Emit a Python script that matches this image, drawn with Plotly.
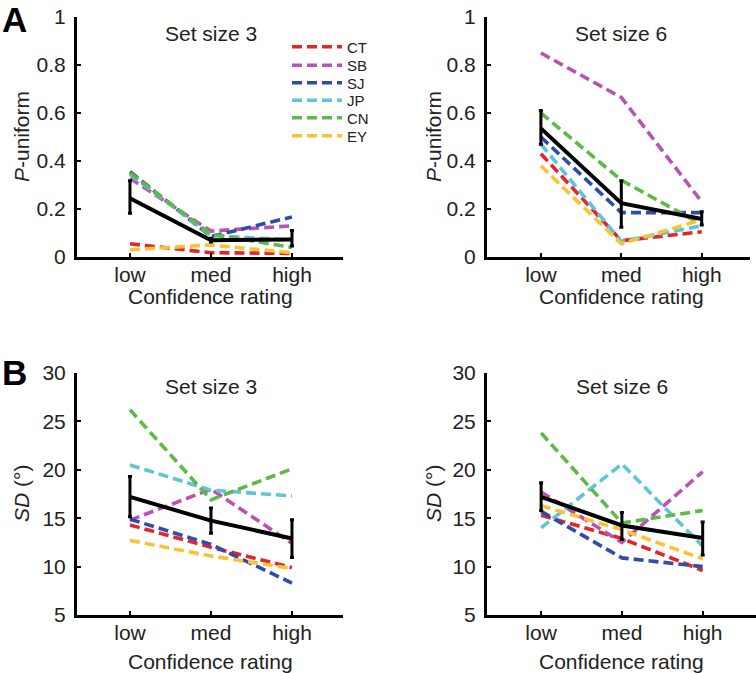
import plotly.graph_objects as go

conf = ["low", "med", "high"]
subjects = ["CT", "SB", "SJ", "JP", "CN", "EY"]
colors = ["#E3242B", "#B953B3", "#2F4DA6", "#5CC6D8", "#5FB946", "#FBC234"]

# Panel A: P-uniform, rows = subjects
puni_ss3 = [
    [0.055, 0.018, 0.015],
    [0.328, 0.108, 0.130],
    [0.356, 0.085, 0.167],
    [0.345, 0.090, 0.070],
    [0.350, 0.095, 0.040],
    [0.030, 0.050, 0.018],
]
puni_ss3_mean = [0.245, 0.070, 0.073]
puni_ss3_lo = [0.182, 0.062, 0.046]
puni_ss3_hi = [0.318, 0.078, 0.110]

puni_ss6 = [
    [0.430, 0.068, 0.105],
    [0.850, 0.665, 0.230],
    [0.500, 0.185, 0.185],
    [0.470, 0.065, 0.130],
    [0.600, 0.320, 0.135],
    [0.380, 0.055, 0.155],
]
puni_ss6_mean = [0.536, 0.224, 0.158]
puni_ss6_lo = [0.470, 0.124, 0.133]
puni_ss6_hi = [0.610, 0.318, 0.189]

# Panel B: SD (deg)
sd_ss3 = [
    [14.3, 12.0, 9.9],
    [14.8, 18.0, 12.4],
    [14.9, 12.3, 8.3],
    [20.5, 17.9, 17.3],
    [26.2, 16.9, 20.1],
    [12.7, 11.1, 9.8],
]
sd_ss3_mean = [17.2, 14.75, 12.9]
sd_ss3_lo = [15.15, 13.45, 10.95]
sd_ss3_hi = [19.3, 16.05, 14.85]

sd_ss6 = [
    [15.3, 12.9, 9.6],
    [17.7, 12.5, 19.8],
    [15.7, 10.9, 10.0],
    [14.0, 20.6, 12.1],
    [23.8, 14.5, 15.8],
    [16.3, 13.8, 10.8],
]
sd_ss6_mean = [17.2, 14.25, 12.95]
sd_ss6_lo = [15.8, 12.8, 11.2]
sd_ss6_hi = [18.65, 15.6, 14.6]

W, H = 756, 673
FONT = "Liberation Sans, Arial, Helvetica, sans-serif"
legend_ids = ["legend", "legend2", "legend3", "legend4", "legend5", "legend6"]

fig = go.Figure()

panels = [
    ("x", "y", puni_ss3, puni_ss3_mean, puni_ss3_lo, puni_ss3_hi, True),
    ("x2", "y2", puni_ss6, puni_ss6_mean, puni_ss6_lo, puni_ss6_hi, False),
    ("x3", "y3", sd_ss3, sd_ss3_mean, sd_ss3_lo, sd_ss3_hi, False),
    ("x4", "y4", sd_ss6, sd_ss6_mean, sd_ss6_lo, sd_ss6_hi, False),
]

for xa, ya, rows, mean, lo, hi, showleg in panels:
    for name, col, vals, lid in zip(subjects, colors, rows, legend_ids):
        fig.add_trace(go.Scatter(
            x=conf, y=vals, mode="lines", name=name,
            line=dict(color=col, width=3.6, dash="10px,5px"),
            xaxis=xa, yaxis=ya, showlegend=showleg, legend=lid,
            hoverinfo="skip"))
    fig.add_trace(go.Scatter(
        x=conf, y=mean, mode="lines", name="mean",
        line=dict(color="black", width=4),
        error_y=dict(type="data", symmetric=False,
                     array=[h - m for h, m in zip(hi, mean)],
                     arrayminus=[m - l for m, l in zip(mean, lo)],
                     color="black", thickness=3, width=2),
        xaxis=xa, yaxis=ya, showlegend=False, hoverinfo="skip"))


def px_x(p):
    return p / W


def px_y(p):
    return 1 - p / H


xcommon = dict(showline=True, linewidth=3, linecolor="black", mirror=False,
               ticks="inside", ticklen=4, tickwidth=2, tickcolor="black",
               showgrid=False, zeroline=False, type="category",
               categoryorder="array", categoryarray=conf, automargin=False,
               ticklabelstandoff=-3,
               tickfont=dict(family=FONT, size=21, color="#222"))
ycommon = dict(showline=True, linewidth=3, linecolor="black", mirror=False,
               ticks="inside", ticklen=4, tickwidth=2, tickcolor="black",
               showgrid=False, zeroline=False, automargin=False,
               ticklabelstandoff=4,
               tickfont=dict(family=FONT, size=21, color="#222"))

top_dom = [px_y(257), px_y(17)]
bot_dom = [px_y(615), px_y(373)]

legend_rows = [47, 65.5, 83, 100.5, 118, 136]
legends = {}
for lid, ypx in zip(legend_ids, legend_rows):
    legends[lid] = dict(x=px_x(287), y=px_y(ypx), xanchor="left", yanchor="middle",
                        bgcolor="rgba(0,0,0,0)", borderwidth=0,
                        font=dict(family=FONT, size=15, color="#222"),
                        itemwidth=50)

fig.update_layout(
    width=W, height=H,
    margin=dict(l=0, r=0, t=0, b=0, autoexpand=False),
    paper_bgcolor="white", plot_bgcolor="white",
    font=dict(family=FONT, color="#222"),
    xaxis=dict(xcommon, domain=[px_x(77), px_x(343)], range=[-0.654, 2.63], anchor="y"),
    yaxis=dict(ycommon, domain=top_dom, range=[0, 1], dtick=0.2, anchor="x"),
    xaxis2=dict(xcommon, domain=[px_x(487), px_x(750)], range=[-0.67, 2.60], anchor="y2"),
    yaxis2=dict(ycommon, domain=top_dom, range=[0, 1], dtick=0.2, anchor="x2"),
    xaxis3=dict(xcommon, domain=[px_x(77), px_x(343)], range=[-0.654, 2.63], anchor="y3"),
    yaxis3=dict(ycommon, domain=bot_dom, range=[5, 30], dtick=5, anchor="x3"),
    xaxis4=dict(xcommon, domain=[px_x(487), 1.0], range=[-0.67, 2.66], anchor="y4"),
    yaxis4=dict(ycommon, domain=bot_dom, range=[5, 30], dtick=5, anchor="x4"),
    showlegend=True,
    **legends,
)

ann = []
for xr, ypx, txt in [("x", 33, "Set size 3"), ("x2", 33, "Set size 6"),
                     ("x3", 387, "Set size 3"), ("x4", 387, "Set size 6")]:
    ann.append(dict(x="med", xref=xr, y=px_y(ypx), yref="paper", text=txt,
                    showarrow=False, font=dict(family=FONT, size=21, color="#222"),
                    xanchor="center", yanchor="middle"))
for xr, ypx in [("x", 296), ("x2", 296), ("x3", 661), ("x4", 661)]:
    ann.append(dict(x="med", xref=xr, y=px_y(ypx), yref="paper",
                    text="Confidence rating", showarrow=False,
                    font=dict(family=FONT, size=21, color="#222"),
                    xanchor="center", yanchor="middle"))
for xpx, ypx, txt in [(22, 137, "<i>P</i>-uniform"), (434, 137, "<i>P</i>-uniform"),
                      (22, 494, "<i>SD</i> (°)"), (434, 494, "<i>SD</i> (°)")]:
    ann.append(dict(x=px_x(xpx), xref="paper", y=px_y(ypx), yref="paper",
                    text=txt, showarrow=False, textangle=-90,
                    font=dict(family=FONT, size=21, color="#222"),
                    xanchor="center", yanchor="middle"))
ann.append(dict(x=px_x(14), y=px_y(19), xref="paper", yref="paper", text="<b>A</b>",
                showarrow=False, font=dict(family=FONT, size=35, color="black"),
                xanchor="center", yanchor="middle"))
ann.append(dict(x=px_x(14), y=px_y(372), xref="paper", yref="paper", text="<b>B</b>",
                showarrow=False, font=dict(family=FONT, size=35, color="black"),
                xanchor="center", yanchor="middle"))
fig.update_layout(annotations=ann)

fig.write_html(
    "out.html",
    config={"displayModeBar": False},
    post_script="document.body.style.margin='0';document.body.style.overflow='hidden';",
)
